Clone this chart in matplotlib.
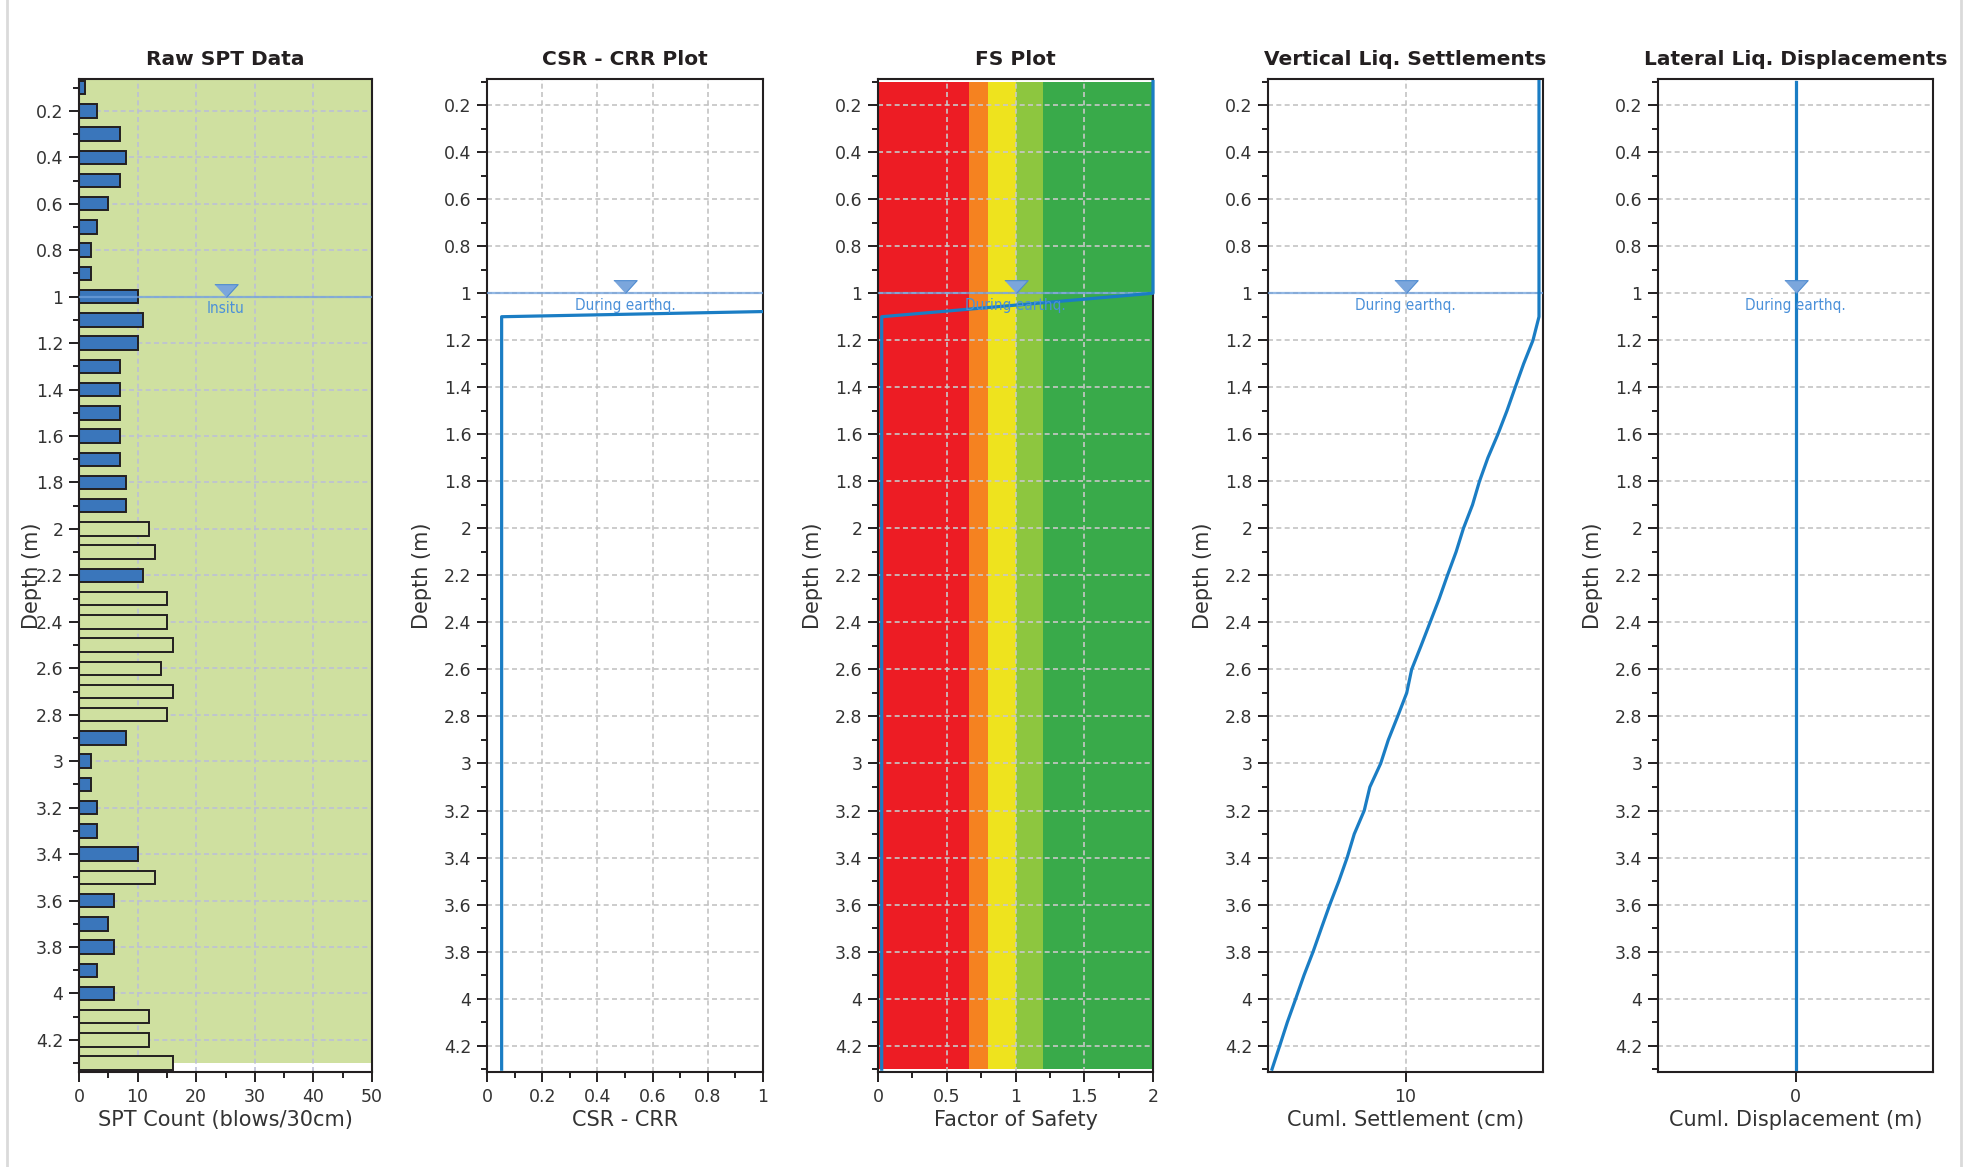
import numpy as np
import matplotlib
matplotlib.use('Agg')
import matplotlib.pyplot as plt
from matplotlib.lines import Line2D
from matplotlib.ticker import MultipleLocator, FixedLocator, FuncFormatter

# ---- data ----
spt_depth = [0.1, 0.2, 0.3, 0.4, 0.5, 0.6, 0.7, 0.8, 0.9, 1.0,
             1.1, 1.2, 1.3, 1.4, 1.5, 1.6, 1.7, 1.8, 1.9, 2.0,
             2.1, 2.2, 2.3, 2.4, 2.5, 2.6, 2.7, 2.8, 2.9, 3.0,
             3.1, 3.2, 3.3, 3.4, 3.5, 3.6, 3.7, 3.8, 3.9, 4.0,
             4.1, 4.2, 4.3]
spt_count = [1, 3, 7, 8, 7, 5, 3, 2, 2, 10,
             11, 10, 7, 7, 7, 7, 7, 8, 8, 12,
             13, 11, 15, 15, 16, 14, 16, 15, 8, 2,
             2, 3, 3, 10, 13, 6, 5, 6, 3, 6,
             12, 12, 16]
# 1 = liquefiable layer (blue bar), 0 = hollow bar
spt_liq = [1, 1, 1, 1, 1, 1, 1, 1, 1, 1,
           1, 1, 1, 1, 1, 1, 1, 1, 1, 0,
           0, 1, 0, 0, 0, 0, 0, 0, 1, 1,
           1, 1, 1, 1, 0, 1, 1, 1, 1, 1,
           0, 0, 0]

csr_depth = [4.3, 1.1, 1.078]
csr_value = [0.053, 0.053, 1.0]

fs_depth = [0.1, 1.0, 1.1, 4.3]
fs_value = [2.0, 2.0, 0.027, 0.027]
fs_bounds = [0.0, 0.665, 0.8, 1.0, 1.2, 2.0]
fs_colors = ['#ed1c24', '#f58220', '#eee31e', '#8dc63f', '#39aa4a']

settle_depth = [0.1, 1.1, 1.2, 1.3, 1.4, 1.5, 1.6, 1.7, 1.8, 1.9, 2.0,
                2.1, 2.2, 2.3, 2.4, 2.5, 2.6, 2.7, 2.8, 2.9, 3.0,
                3.1, 3.2, 3.3, 3.4, 3.5, 3.6, 3.7, 3.8, 3.9, 4.0,
                4.1, 4.2, 4.3]
settle_cm = [20.0, 20.0, 19.55, 18.85, 18.22, 17.60, 16.92, 16.17, 15.54, 15.02, 14.34,
             13.79, 13.14, 12.52, 11.84, 11.16, 10.46, 10.09, 9.41, 8.71, 8.14,
             7.33, 6.91, 6.16, 5.63, 5.01, 4.33, 3.70, 3.08, 2.40, 1.78,
             1.15, 0.58, 0.0]

disp_depth = [0.1, 4.3]
disp_m = [0.0, 0.0]

water_depth = 1.0

# ---- styling ----
plt.rcParams['font.family'] = ['DejaVu Sans']
DARK = '#231f20'
LINE = '#1a7dc4'
WT = '#6fa0dc'
NARROW = ['Liberation Sans Narrow', 'DejaVu Sans']
fmt_g = FuncFormatter(lambda v, p: '%g' % round(v, 2))

fig = plt.figure(figsize=(19.73, 11.67), dpi=100)
W, H = 1973.0, 1167.0
top_px, bot_px = 79.0, 1072.0
lefts = [79, 487, 878, 1268, 1658]
widths = [293, 276, 275, 275, 275]


def make_axes(i):
    return fig.add_axes([lefts[i] / W, 1 - bot_px / H, widths[i] / W, (bot_px - top_px) / H])


def style(ax, title, xlabel, ylim, gridcolor='#c3c3c3', labelx=-0.2):
    ax.set_ylim(*ylim)
    ax.yaxis.set_major_locator(MultipleLocator(0.2))
    ax.yaxis.set_minor_locator(FixedLocator([0.1 + 0.2 * k for k in range(22)]))
    ax.yaxis.set_major_formatter(fmt_g)
    for s in ax.spines.values():
        s.set_linewidth(1.5)
        s.set_color(DARK)
    ax.tick_params(which='major', length=7.2, width=1.4, color=DARK, labelsize=12.5,
                   labelcolor='#333333', pad=4)
    ax.tick_params(which='minor', length=4.2, width=1.4, color=DARK)
    ax.set_axisbelow(True)
    ax.grid(True, which='major', linestyle=(0, (3, 2)), color=gridcolor, linewidth=1.2)
    ax.set_title(title, fontsize=14.5, fontweight='bold', color=DARK, pad=10)
    ax.set_xlabel(xlabel, fontsize=15, color='#333333', labelpad=3)
    ax.set_ylabel('Depth (m)', fontsize=15, color='#333333')
    ax.yaxis.set_label_coords(labelx, 0.5)


def water_table(ax, x, label, line=True):
    if line:
        ax.axhline(water_depth, color=WT, alpha=0.75, lw=1.6, zorder=2.6)
    tri = [(-1, 1.1), (1, 1.1), (0, 0)]
    ax.plot([x], [water_depth], marker=tri, markersize=18.5, color='#7ba6dc',
            markeredgecolor='#4f8bd0', markeredgewidth=0.8, zorder=4, clip_on=False)
    ax.text(x, water_depth + 0.052, label, ha='center', va='center', fontsize=11,
            color='#4a90d9', family=NARROW, fontstretch='condensed', zorder=4)


# ---- Panel 1: Raw SPT Data ----
ax1 = make_axes(0)
ax1.axhspan(0, 4.3, color='#cfe0a0', zorder=0, lw=0)
for d, n, liq in zip(spt_depth, spt_count, spt_liq):
    ax1.barh(d, n, height=0.058, color='#3a76bb' if liq else '#cfe0a0',
             edgecolor=DARK, linewidth=1.4, zorder=2)
ax1.set_xlim(0, 50)
ax1.xaxis.set_major_locator(MultipleLocator(10))
ax1.xaxis.set_minor_locator(MultipleLocator(5))
style(ax1, 'Raw SPT Data', 'SPT Count (blows/30cm)', (4.338, 0.063),
      gridcolor='#bcc0d6', labelx=-0.125)
water_table(ax1, 25, 'Insitu')

# ---- Panel 2: CSR - CRR ----
ax2 = make_axes(1)
ax2.plot(csr_value, csr_depth, color=LINE, lw=2.3, zorder=3)
ax2.set_xlim(0, 1)
ax2.xaxis.set_major_locator(MultipleLocator(0.2))
ax2.xaxis.set_minor_locator(MultipleLocator(0.1))
ax2.xaxis.set_major_formatter(fmt_g)
style(ax2, 'CSR - CRR Plot', 'CSR - CRR', (4.312, 0.089))
water_table(ax2, 0.5, 'During earthq.')

# ---- Panel 3: FS ----
ax3 = make_axes(2)
for lo, hi, c in zip(fs_bounds[:-1], fs_bounds[1:], fs_colors):
    ax3.fill_betweenx([0.1, 4.3], lo, hi, color=c, lw=0, zorder=0)
ax3.plot(fs_value, fs_depth, color=LINE, lw=2.3, zorder=3, clip_on=False)
ax3.set_xlim(0, 2)
ax3.xaxis.set_major_locator(MultipleLocator(0.5))
ax3.xaxis.set_minor_locator(MultipleLocator(0.25))
ax3.xaxis.set_major_formatter(fmt_g)
style(ax3, 'FS Plot', 'Factor of Safety', (4.312, 0.089), gridcolor='#c8c8c8')
water_table(ax3, 1.0, 'During earthq.')

# ---- Panel 4: vertical settlements ----
ax4 = make_axes(3)
ax4.plot(settle_cm, settle_depth, color=LINE, lw=2.3, zorder=3)
ax4.set_xlim(-0.3, 20.3)
ax4.xaxis.set_major_locator(FixedLocator([10]))
style(ax4, 'Vertical Liq. Settlements', 'Cuml. Settlement (cm)', (4.312, 0.089))
water_table(ax4, 10, 'During earthq.')

# ---- Panel 5: lateral displacements ----
ax5 = make_axes(4)
ax5.plot(disp_m, disp_depth, color=LINE, lw=2.3, zorder=3)
ax5.set_xlim(-1, 1)
ax5.xaxis.set_major_locator(FixedLocator([0]))
style(ax5, 'Lateral Liq. Displacements', 'Cuml. Displacement (m)', (4.312, 0.089))
water_table(ax5, 0, 'During earthq.', line=False)

# light frame lines at the page edges
for xp in (7, 1961):
    fig.add_artist(Line2D([xp / W, xp / W], [0, 1], color='#dadada', lw=2,
                          transform=fig.transFigure))

fig.savefig('out.png', dpi=100)
